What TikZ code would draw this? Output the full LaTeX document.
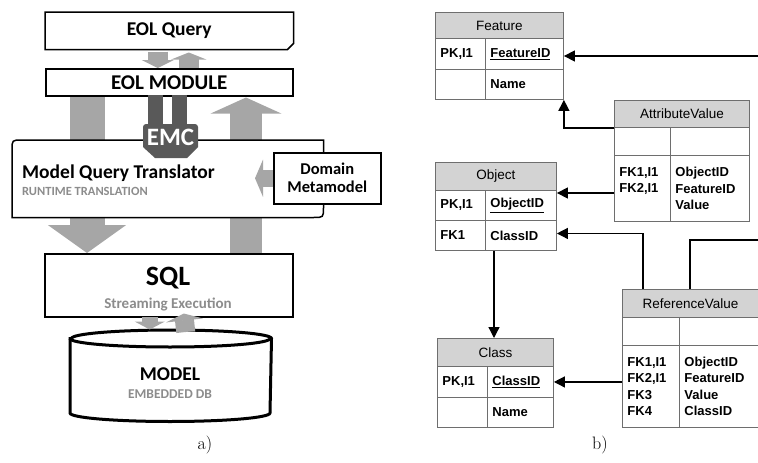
\documentclass[tikz,border=0pt]{standalone}
\usepackage{fontspec}
\newfontfamily\calibri{Carlito}
\newfontfamily\arial{Liberation Sans}
\usetikzlibrary{positioning, arrows.meta, calc}
\definecolor{arrowgray}{HTML}{A6A6A6}
\definecolor{emcgray}{HTML}{595959}
\definecolor{labelgray}{HTML}{8C8C8C}
\definecolor{headgray}{HTML}{D3D3D3}
\definecolor{gridgray}{HTML}{6E6E6E}
\tikzset{
  box/.style={
    draw,
    line width=1.5pt,
    fill=white,
    anchor=north west,
    inner sep=0pt,
    align=center,
    font=\calibri\bfseries
  },
  flow/.style n args={3}{
    draw=arrowgray,
    line width=#1,
    -{Triangle[width=#2, length=#3]}
  },
  tblhead/.style={
    draw=gridgray,
    line width=0.9pt,
    fill=headgray,
    anchor=north west,
    inner sep=0pt,
    font=\arial\fontsize{13.5}{16}\selectfont
  },
  tblcell/.style={
    draw=gridgray,
    line width=0.9pt,
    anchor=north west,
    inner xsep=5pt,
    inner ysep=0pt,
    align=left,
    font=\arial\bfseries\fontsize{13}{16.5}\selectfont
  },
  fk/.style={
    line width=1.3pt,
    -{Triangle[length=11pt, width=11pt]}
  },
  caption/.style={font=\fontsize{18}{20}\selectfont}
}

\begin{document}
\begin{tikzpicture}[x=1pt, y=-1pt]
  \useasboundingbox (0,0) rectangle (758,463);

  % --- a) architecture ---
  \coordinate (downx) at (87,0);
  \coordinate (upx) at (246,0);
  \node[box, draw=none, fill=none, minimum width=247pt, minimum height=27pt] (eolmodule) at (45,68) {};
  \node[box, draw=none, fill=none, minimum width=248pt, minimum height=63pt] (sql) at (44,253) {};

  % big flows, partly hidden by the translator
  \draw[flow={35pt}{77pt}{28pt}] (eolmodule.south -| downx) -- (sql.north -| downx);
  \draw[flow={32pt}{70pt}{16pt}] (sql.north -| upx) -- ([yshift=-1pt]eolmodule.south -| upx);

  \node[box, draw=none, minimum width=247pt, minimum height=36pt, font=\calibri\bfseries\fontsize{19.5}{22}\selectfont] (eolquery) at (45,12) {EOL Query};
  \draw[line width=1.5pt] (eolquery.north west) -- (eolquery.north east) -- ([yshift=6pt]eolquery.south east)
    -- ([xshift=-6pt]eolquery.south east) -- (eolquery.south west) -- cycle;
  \node[box, minimum width=247pt, minimum height=27pt, font=\calibri\bfseries\fontsize{21}{24}\selectfont] (eolmodule) at (45,68) {EOL MODULE};

  \node[box, draw=none, fill=none, minimum width=310pt, minimum height=76pt] (mqt) at (12,140) {};
  \draw[line width=1.5pt, fill=white] (mqt.south west) -- ($(mqt.north west)+(0,10)$) .. controls (mqt.north west) .. ($(mqt.north west)+(10,0)$)
    -- (mqt.north east) -- ($(mqt.south east)+(0,-10)$) .. controls (mqt.south east) .. ($(mqt.south east)+(-10,0)$) -- cycle;
  \node[anchor=base west, inner sep=0pt, font=\calibri\bfseries\fontsize{19.5}{21}\selectfont] (mqtname) at (22,178) {Model Query Translator};
  \node[anchor=base west, inner sep=0pt, text=labelgray, font=\calibri\bfseries\fontsize{12.5}{14}\selectfont] (mqtsub) at (22,195) {RUNTIME TRANSLATION};

  \node[box, minimum width=248pt, minimum height=63pt] (sql) at (44,253) {};
  \node[anchor=base, inner sep=0pt, font=\calibri\bfseries\fontsize{28}{30}\selectfont] (sqltitle) at (168,285) {SQL};
  \node[anchor=base, inner sep=0pt, text=labelgray, font=\calibri\bfseries\fontsize{15}{16}\selectfont] (sqlsub) at (168,308) {Streaming Execution};

  % embedded database
  \node[box, draw=none, fill=none, minimum width=200pt, minimum height=90pt] (db) at (70,330) {};
  \draw[line width=3pt, fill=white] ($(db.north west)+(0,8.5)$) -- ($(db.south west)+(0,-8.5)$)
    arc[start angle=180, end angle=360, x radius=100pt, y radius=8.5pt]
    -- ($(db.north east)+(0,8.5)$) arc[start angle=0, end angle=180, x radius=100pt, y radius=8.5pt] -- cycle;
  \draw[line width=3pt] ($(db.north west)+(0,8.5)$) arc[start angle=180, end angle=360, x radius=100pt, y radius=8.5pt];
  \node[anchor=base, inner sep=0pt, font=\calibri\bfseries\fontsize{19.5}{21}\selectfont] (dbtitle) at (170,380) {MODEL};
  \node[anchor=base, inner sep=0pt, text=labelgray, font=\calibri\bfseries\fontsize{13.5}{15}\selectfont] (dbsub) at (170,398) {EMBEDDED DB};

  % EMC connector
  \fill[emcgray] (148,95) rectangle (163,126);
  \fill[emcgray] (172,95) rectangle (187,126);
  \fill[emcgray, rounded corners=3pt] (143,147) -- (143,124) -- (198,124) [sharp corners] -- (198,147) -- (187,158) -- (155,158) -- (143,147) -- cycle;
  \node[inner sep=0pt, text=white, font=\calibri\bfseries\fontsize{25}{26}\selectfont] (emc) at (170.5,137) {EMC};

  \node[box, minimum width=107pt, minimum height=51pt, font=\calibri\bfseries\fontsize{16.5}{18}\selectfont] (domain) at (273,152) {Domain\\Metamodel};
  \draw[flow={17pt}{37pt}{8pt}] (domain.west) -- ([xshift=-18pt]domain.west);

  % small flows
  \draw[flow={20pt}{32pt}{8pt}] ([xshift=-11.5pt,yshift=-2pt]eolquery.south) -- ([xshift=-11.5pt]eolmodule.north);
  \draw[flow={20pt}{35pt}{7pt}] ([xshift=19.5pt]eolmodule.north) -- ([xshift=19.5pt,yshift=-3pt]eolquery.south);
  \draw[flow={16pt}{30pt}{8pt}] ([xshift=-19pt,yshift=1pt]sql.south) -- ([xshift=-19pt,yshift=-12pt]sql.south);
  \draw[flow={19pt}{37pt}{7pt}] ([xshift=15pt,yshift=-2pt]db.north) -- ([xshift=15pt,yshift=4pt]sql.south);

  \node[caption] (capa) at (205,445) {a)};

  % --- b) schema ---
  % Feature
  \node[tblhead, minimum width=128pt, minimum height=26pt] (feature) at (435,12) {Feature};
  \node[tblcell, minimum width=50pt, text width=40pt, minimum height=31pt] (featpk) at (435,38) {PK,I1};
  \node[tblcell, minimum width=78pt, text width=68pt, minimum height=31pt] (featid) at (485,38) {\underline{FeatureID}};
  \node[tblcell, minimum width=50pt, text width=40pt, minimum height=30pt] (featkey) at (435,69) {};
  \node[tblcell, minimum width=78pt, text width=68pt, minimum height=30pt] (featname) at (485,69) {Name};

  % AttributeValue
  \node[tblhead, minimum width=135pt, minimum height=27pt] (attr) at (614,100) {AttributeValue};
  \node[tblcell, minimum width=56pt, text width=46pt, minimum height=28pt] (attrpk) at (614,127) {};
  \node[tblcell, minimum width=79pt, text width=69pt, minimum height=28pt] (attrid) at (670,127) {};
  \node[tblcell, minimum width=56pt, text width=46pt, minimum height=66pt] (attrkeys) at (614,155) {FK1,I1\\FK2,I1\\~};
  \node[tblcell, minimum width=79pt, text width=69pt, minimum height=66pt] (attrfields) at (670,155) {ObjectID\\FeatureID\\Value};

  % Object
  \node[tblhead, minimum width=121pt, minimum height=28pt] (object) at (435,162) {Object};
  \node[tblcell, minimum width=50pt, text width=40pt, minimum height=30pt] (objpk) at (435,190) {PK,I1};
  \node[tblcell, minimum width=71pt, text width=61pt, minimum height=30pt] (objid) at (485,190) {\underline{ObjectID}};
  \node[tblcell, minimum width=50pt, text width=40pt, minimum height=30pt] (objfk) at (435,220) {FK1};
  \node[tblcell, minimum width=71pt, text width=61pt, minimum height=30pt] (objcls) at (485,220) {ClassID};

  % Class
  \node[tblhead, minimum width=116pt, minimum height=28pt] (class) at (437,338) {Class};
  \node[tblcell, minimum width=50pt, text width=40pt, minimum height=31pt] (clspk) at (437,366) {PK,I1};
  \node[tblcell, minimum width=66pt, text width=56pt, minimum height=31pt] (clsid) at (487,366) {\underline{ClassID}};
  \node[tblcell, minimum width=50pt, text width=40pt, minimum height=30pt] (clskey) at (437,397) {};
  \node[tblcell, minimum width=66pt, text width=56pt, minimum height=30pt] (clsname) at (487,397) {Name};

  % ReferenceValue
  \node[tblhead, minimum width=136pt, minimum height=28pt] (ref) at (622,289) {ReferenceValue};
  \node[tblcell, minimum width=57pt, text width=47pt, minimum height=28pt] (refpk) at (622,317) {};
  \node[tblcell, minimum width=79pt, text width=69pt, minimum height=28pt] (refid) at (679,317) {};
  \node[tblcell, minimum width=57pt, text width=47pt, minimum height=82pt] (refkeys) at (622,345) {FK1,I1\\FK2,I1\\FK3\\FK4};
  \node[tblcell, minimum width=79pt, text width=69pt, minimum height=82pt] (reffields) at (679,345) {ObjectID\\FeatureID\\Value\\ClassID};

  % relations
  \coordinate (edgefeat) at (758,56);
  \coordinate (edgeref) at (758,240);
  \coordinate (objtip) at ([yshift=-3pt]objid.north east);
  \draw[fk] (edgefeat) -- (featid.east |- edgefeat);
  \draw[fk] (attr.south west) -| (featname.south east);
  \draw[fk] (attrkeys.west |- objtip) -- (objtip);
  \draw[fk] ([xshift=21pt]ref.north west) |- ([yshift=2pt]objcls.east);
  \draw[line width=1.3pt] ([xshift=68pt]ref.north west) |- (edgeref);
  \draw[fk] ([xshift=9pt]objcls.south west) -- ([xshift=9pt]objcls.south west |- class.north);
  \draw[fk] (refkeys.west |- clsid.east) -- (clsid.east);

  \node[caption] (capb) at (600,445) {b)};
\end{tikzpicture}
\end{document}
